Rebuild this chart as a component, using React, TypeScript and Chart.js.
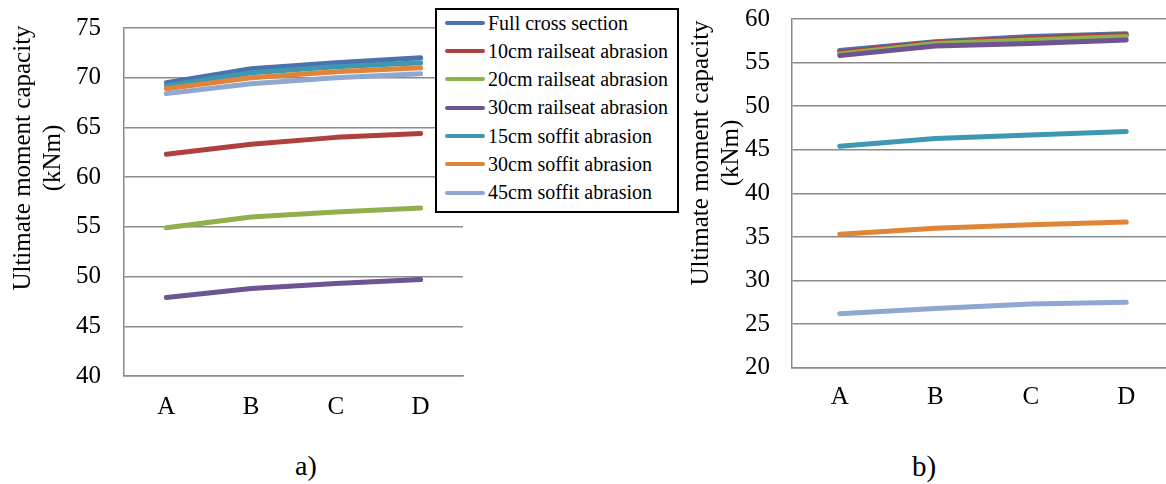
import React, { useEffect, useRef } from "react";
import { Chart, registerables } from "chart.js";

Chart.register(...registerables);

const categories = ["A", "B", "C", "D"];
const seriesNames = [
  "Full cross section",
  "10cm railseat abrasion",
  "20cm railseat abrasion",
  "30cm railseat abrasion",
  "15cm soffit abrasion",
  "30cm soffit abrasion",
  "45cm soffit abrasion",
];
const seriesColors = ["#4A72AE", "#B0403D", "#8FB04C", "#6E5493", "#3F98B2", "#E08439", "#8EA8D1"];

// Chart a)
const fullA = [69.5, 70.9, 71.5, 72.0];
const rail10A = [62.3, 63.3, 64.0, 64.4];
const rail20A = [54.9, 56.0, 56.5, 56.9];
const rail30A = [47.9, 48.8, 49.3, 49.7];
const soffit15A = [69.2, 70.5, 71.1, 71.5];
const soffit30A = [68.9, 70.0, 70.6, 71.0];
const soffit45A = [68.4, 69.4, 70.0, 70.4];

// Chart b)
const fullB = [56.4, 57.4, 58.0, 58.3];
const rail10B = [56.2, 57.3, 57.8, 58.2];
const rail20B = [56.0, 57.2, 57.6, 58.0];
const rail30B = [55.8, 56.9, 57.2, 57.6];
const soffit15B = [45.4, 46.3, 46.7, 47.1];
const soffit30B = [35.3, 36.0, 36.4, 36.7];
const soffit45B = [26.2, 26.8, 27.3, 27.5];

const yRangeA = { min: 40, max: 75, step: 5 };
const yRangeB = { min: 20, max: 60, step: 5 };
const yTitleLines = ["Ultimate moment capacity", "(kNm)"];

const FONT = "'Liberation Serif', 'Times New Roman', serif";
const GRID = "#8A8A8A";
const TICK_SIZE = 25;

function buildConfig(values: number[][], yr: { min: number; max: number; step: number }, geo: any) {
  return {
    type: "line",
    data: {
      labels: categories,
      datasets: values.map((v, i) => ({
        label: seriesNames[i],
        data: v,
        borderColor: seriesColors[i],
        backgroundColor: seriesColors[i],
        borderWidth: 5,
        pointRadius: 0,
        tension: 0,
        fill: false,
        borderCapStyle: "round",
        borderJoinStyle: "round",
        order: values.length - i,
      })),
    },
    options: {
      responsive: false,
      animation: false,
      events: [],
      layout: { padding: { top: geo.padTop, right: geo.padRight, left: 0, bottom: 0 } },
      plugins: { legend: { display: false }, tooltip: { enabled: false }, title: { display: false } },
      scales: {
        x: {
          type: "category",
          offset: true,
          grid: { display: false, drawTicks: false },
          border: { display: true, color: GRID, width: 1.5 },
          ticks: { color: "#000", font: { family: FONT, size: TICK_SIZE }, padding: geo.xPad, maxRotation: 0 },
          afterFit: (s: any) => {
            s.height = geo.xHeight;
            s.paddingLeft = 0;
            s.paddingRight = 0;
          },
        },
        y: {
          min: yr.min,
          max: yr.max,
          grid: { color: GRID, lineWidth: 1.5, drawTicks: false },
          border: { display: true, color: GRID, width: 1.5 },
          ticks: { stepSize: yr.step, color: "#000", font: { family: FONT, size: TICK_SIZE }, padding: geo.yPad },
          afterFit: (s: any) => {
            s.width = geo.yWidth;
            s.paddingTop = 0;
            s.paddingBottom = 0;
          },
        },
      },
    },
  };
}

function LineChart(props: { values: number[][]; yr: any; geo: any; left: number; width: number; height: number }) {
  const ref = useRef<HTMLCanvasElement | null>(null);
  useEffect(() => {
    if (!ref.current) return;
    const chart = new Chart(ref.current, buildConfig(props.values, props.yr, props.geo) as any);
    return () => chart.destroy();
  }, []);
  return (
    <canvas
      ref={ref}
      width={props.width}
      height={props.height}
      style={{ position: "absolute", left: props.left, top: 0, width: props.width, height: props.height }}
    />
  );
}

function YTitle(props: { cx: number; cy: number }) {
  const W = 320;
  const H = 60;
  return (
    <div
      style={{
        position: "absolute",
        left: props.cx - W / 2,
        top: props.cy - H / 2,
        width: W,
        height: H,
        transform: "rotate(-90deg)",
        textAlign: "center",
        fontFamily: FONT,
        fontSize: 25,
        lineHeight: "30px",
        color: "#000",
        whiteSpace: "nowrap",
      }}
    >
      {yTitleLines.map((t, i) => (
        <div key={i}>{t}</div>
      ))}
    </div>
  );
}

function Legend() {
  return (
    <div
      style={{
        position: "absolute",
        left: 435,
        top: 8,
        width: 244,
        height: 205,
        boxSizing: "border-box",
        border: "2px solid #000",
        background: "#fff",
        fontFamily: FONT,
        fontSize: 20,
        color: "#000",
      }}
    >
      <div style={{ marginTop: -1.5 }}>
        {seriesNames.map((n, i) => (
          <div key={i} style={{ height: 28.33, lineHeight: "28.33px", display: "flex", alignItems: "center", whiteSpace: "nowrap" }}>
            <span
              style={{
                display: "inline-block",
                marginLeft: 8,
                width: 40,
                height: 4,
                borderRadius: 2,
                background: seriesColors[i],
                marginRight: 3,
              }}
            />
            <span>{n}</span>
          </div>
        ))}
      </div>
    </div>
  );
}

export default function App() {
  const valuesA = [fullA, rail10A, rail20A, rail30A, soffit15A, soffit30A, soffit45A];
  const valuesB = [fullB, rail10B, rail20B, rail30B, soffit15B, soffit30B, soffit45B];
  return (
    <div
      style={{
        position: "fixed",
        left: 0,
        top: 0,
        width: 1166,
        height: 484,
        overflow: "hidden",
        background: "#fff",
      }}
    >
      <LineChart
        values={valuesA}
        yr={yRangeA}
        left={0}
        width={470}
        height={430}
        geo={{ padTop: 28, padRight: 7, yWidth: 124, xHeight: 54, xPad: 16, yPad: 23 }}
      />
      <LineChart
        values={valuesB}
        yr={yRangeB}
        left={680}
        width={500}
        height={430}
        geo={{ padTop: 19, padRight: 6, yWidth: 112, xHeight: 62.3, xPad: 15, yPad: 22 }}
      />
      <YTitle cx={37.25} cy={158} />
      <YTitle cx={714.5} cy={153} />
      <Legend />
      <div style={{ position: "absolute", left: 295, top: 452, fontFamily: FONT, fontSize: 28, lineHeight: "28px" }}>a)</div>
      <div style={{ position: "absolute", left: 912, top: 452, fontFamily: FONT, fontSize: 29, lineHeight: "29px" }}>b)</div>
    </div>
  );
}
